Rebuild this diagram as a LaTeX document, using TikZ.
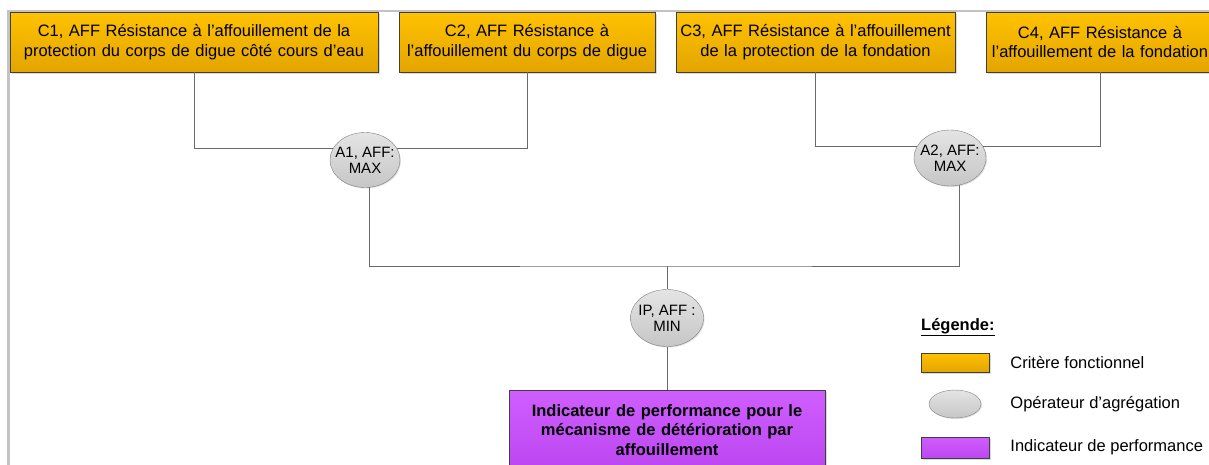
\documentclass[tikz,border=0pt]{standalone}
\usepackage{fontspec}
\setmainfont{Liberation Sans}
\usetikzlibrary{shapes.geometric}
\usetikzlibrary{shadows}
\usetikzlibrary{positioning}

\definecolor{critTop}{HTML}{FFC200}
\definecolor{critBot}{HTML}{E3A500}
\definecolor{opTop}{HTML}{E4E4E4}
\definecolor{opBot}{HTML}{C6C6C6}
\definecolor{perfTop}{HTML}{CF5EFF}
\definecolor{perfBot}{HTML}{BC46F0}
\definecolor{edgeGray}{HTML}{3F3F3F}
\definecolor{lineGray}{HTML}{6A6A6A}
\definecolor{frameGray}{HTML}{C3C3C3}

\begin{document}
\begin{tikzpicture} [
        x = 1pt,
        y = -1pt,
        every node/.style = {
          align = center,
          font = \fontsize{16.5}{19.5}\selectfont,
        },
        critbox/.style = {
          draw = edgeGray,
          top color = critTop,
          bottom color = critBot,
          minimum height = 60pt,
          inner xsep = 0pt,
          drop shadow = {opacity = 0.3, shadow xshift = 1.5pt, shadow yshift = -1.5pt},
        },
        aggop/.style = {
          ellipse,
          draw = gray,
          top color = opTop,
          bottom color = opBot,
          inner xsep = -7pt,
          inner ysep = 0pt,
          font = \fontsize{15}{16}\selectfont,
          drop shadow = {opacity = 0.25, shadow xshift = 1pt, shadow yshift = -1pt},
        },
        perfbox/.style = {
          draw = edgeGray,
          top color = perfTop,
          bottom color = perfBot,
          inner xsep = 0pt,
          font = \fontsize{16.5}{19.5}\selectfont\bfseries,
          drop shadow = {opacity = 0.3, shadow xshift = 1.5pt, shadow yshift = -1.5pt},
        },
        link/.style = {
          draw = lineGray,
          line width = 0.9pt,
        },
        legtext/.style = {
          anchor = west,
          inner sep = 3pt,
        },
      ]

    \useasboundingbox (0,0) rectangle (1209,464);

    % frame
    \draw[frameGray, line width = 2.5pt] (1215,11) -- (8.5,11) -- (8.5,470);

    % criteria
    \node [critbox, text width = 368pt] at (194,42) (c1)
      {C1, AFF Résistance à l’affouillement de la\\protection du corps de digue côté cours d’eau};
    \node [critbox, text width = 256pt] at (527,42) (c2)
      {C2, AFF Résistance à\\l’affouillement du corps de digue};
    \node [critbox, text width = 279pt] at (815.5,42) (c3)
      {C3, AFF Résistance à l’affouillement\\de la protection de la fondation};
    \node [critbox, text width = 228pt] at (1100,42) (c4)
      {C4, AFF Résistance à\\l’affouillement de la fondation};

    % aggregation operators
    \node [aggop, minimum width = 70pt, minimum height = 55pt] at (365,160) (a1) {A1, AFF:\\MAX};
    \node [aggop, minimum width = 72pt, minimum height = 56pt] at (950,158) (a2) {A2, AFF:\\MAX};
    \node [aggop, minimum width = 73pt, minimum height = 57pt] at (667,318) (ip) {IP, AFF :\\MIN};

    % performance indicator
    \node [perfbox, text width = 316pt, minimum height = 80pt] at (667,430) (perf)
      {Indicateur de performance pour le\\mécanisme de détérioration par\\affouillement};

    \coordinate (junction) at (667,266);

    \draw[link] (c1.south) |- (a1.160);
    \draw[link] (c2.south) |- (a1.20);
    \draw[link] (c3.south) |- (a2.160);
    \draw[link] (c4.south) |- (a2.20);
    \draw[link] (a1.280) |- (junction) -| (a2.290);
    \draw[link] (junction) -- (ip.north);
    \draw[link] (ip.south) -- (perf.north);

    % legend
    \node [anchor = west, inner sep = 0pt, font = \fontsize{16.5}{19.5}\selectfont\bfseries] at (921,327) (legTitle)
      {\underline{Légende:}};
    \node [critbox, text width = 68pt, minimum height = 19pt] at (955,362.5) (legCrit) {};
    \node [aggop, minimum width = 52pt, minimum height = 28pt] at (955,404) (legOp) {};
    \node [perfbox, text width = 68pt, minimum height = 21pt] at (955,447.5) (legPerf) {};
    \node [legtext, right = 18pt of legCrit] (legCritText) {Critère fonctionnel};
    \node [legtext, right = 26pt of legOp] (legOpText) {Opérateur d’agrégation};
    \node [legtext, right = 18pt of legPerf] (legPerfText) {Indicateur de performance};
  \end{tikzpicture}
\end{document}
